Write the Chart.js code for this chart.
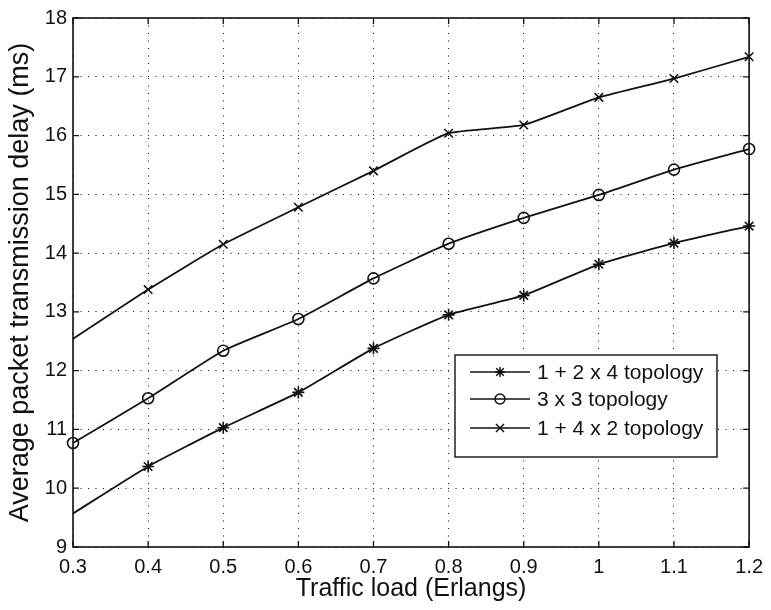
<!DOCTYPE html>
<html>
<head>
<meta charset="utf-8">
<script src="https://cdn.jsdelivr.net/npm/chart.js@4/dist/chart.umd.min.js"></script>
<style>
  html, body { margin: 0; padding: 0; background: #fff; }
  #wrap { width: 771px; height: 610px; position: relative; }
</style>
</head>
<body>
<div id="wrap"><canvas id="c" width="771" height="610"></canvas></div>
<script>
// Traffic load (Erlangs)
const loads = [0.3, 0.4, 0.5, 0.6, 0.7, 0.8, 0.9, 1.0, 1.1, 1.2];

// Average packet transmission delay (ms) per topology
const delayTopo124 = [9.57, 10.37, 11.03, 11.63, 12.38, 12.95, 13.28, 13.81, 14.17, 14.46];
const delayTopo33  = [10.77, 11.53, 12.34, 12.88, 13.57, 14.16, 14.60, 14.99, 15.42, 15.77];
const delayTopo142 = [12.54, 13.38, 14.15, 14.78, 15.40, 16.04, 16.18, 16.65, 16.97, 17.34];

const seriesLabels = ['1 + 2 x 4 topology', '3 x 3 topology', '1 + 4 x 2 topology'];
const yTicks = [9, 10, 11, 12, 13, 14, 15, 16, 17, 18];

const INK = '#111';
const FONT = 'Liberation Sans, Arial, Helvetica, sans-serif';

function toXY(values) {
  return values.map((v, i) => ({ x: loads[i], y: v }));
}

// Marker drawing shared by the legend
function drawMarker(ctx, style, x, y, r) {
  ctx.beginPath();
  if (style === 'circle') {
    ctx.arc(x, y, r, 0, Math.PI * 2);
  } else if (style === 'crossRot') {
    const d = r * 0.8;
    ctx.moveTo(x - d, y - d); ctx.lineTo(x + d, y + d);
    ctx.moveTo(x - d, y + d); ctx.lineTo(x + d, y - d);
  } else if (style === 'star') {
    const d = r * 0.75;
    ctx.moveTo(x - r, y); ctx.lineTo(x + r, y);
    ctx.moveTo(x, y - r); ctx.lineTo(x, y + r);
    ctx.moveTo(x - d, y - d); ctx.lineTo(x + d, y + d);
    ctx.moveTo(x - d, y + d); ctx.lineTo(x + d, y - d);
  }
  ctx.stroke();
}

// Frame, inward ticks and the boxed legend inside the plot
const framePlugin = {
  id: 'frame',
  afterDraw(chart) {
    const { ctx, chartArea: a, scales } = chart;
    ctx.save();
    ctx.strokeStyle = INK;
    ctx.lineWidth = 1.6;
    ctx.strokeRect(a.left, a.top, a.right - a.left, a.bottom - a.top);
    ctx.lineWidth = 1.3;
    const tl = 6;
    ctx.beginPath();
    scales.x.ticks.forEach(t => {
      const px = scales.x.getPixelForValue(t.value);
      ctx.moveTo(px, a.bottom); ctx.lineTo(px, a.bottom - tl);
      ctx.moveTo(px, a.top); ctx.lineTo(px, a.top + tl);
    });
    scales.y.ticks.forEach(t => {
      const py = scales.y.getPixelForValue(t.value);
      ctx.moveTo(a.left, py); ctx.lineTo(a.left + tl, py);
      ctx.moveTo(a.right, py); ctx.lineTo(a.right - tl, py);
    });
    ctx.stroke();

    // legend box
    const bx = 455, by = 355, bw = 262, bh = 102;
    ctx.fillStyle = '#fff';
    ctx.fillRect(bx, by, bw, bh);
    ctx.lineWidth = 1.4;
    ctx.strokeRect(bx, by, bw, bh);
    const rows = [372, 399, 428];
    ctx.font = '21px ' + FONT;
    ctx.textBaseline = 'middle';
    ctx.textAlign = 'left';
    chart.data.datasets.forEach((ds, i) => {
      const y = rows[i];
      ctx.strokeStyle = INK;
      ctx.lineWidth = 1.5;
      ctx.beginPath();
      ctx.moveTo(470, y); ctx.lineTo(530, y);
      ctx.stroke();
      drawMarker(ctx, ds.pointStyle, 500, y, 5);
      ctx.fillStyle = INK;
      ctx.fillText(ds.label, 537, y + 1);
    });
    ctx.restore();
  }
};

function makeDataset(label, values, style, radius, firstHidden) {
  const radii = values.map((v, i) => (firstHidden && i === 0) ? 0 : radius);
  return {
    label: label,
    data: toXY(values),
    borderColor: INK,
    backgroundColor: 'rgba(0,0,0,0)',
    borderWidth: 1.8,
    pointStyle: style,
    pointRadius: radii,
    pointHoverRadius: radii,
    pointBorderColor: INK,
    pointBorderWidth: 1.6,
    pointBackgroundColor: 'rgba(0,0,0,0)',
    tension: 0.15,
    fill: false,
    clip: false
  };
}

new Chart(document.getElementById('c'), {
  type: 'line',
  data: {
    datasets: [
      makeDataset(seriesLabels[0], delayTopo124, 'star', 6, true),
      makeDataset(seriesLabels[1], delayTopo33, 'circle', 5.5, false),
      makeDataset(seriesLabels[2], delayTopo142, 'crossRot', 6, true)
    ]
  },
  options: {
    responsive: false,
    animation: false,
    devicePixelRatio: 1,
    layout: { padding: { left: 0, right: 17, top: 13, bottom: 0 } },
    plugins: { legend: { display: false }, tooltip: { enabled: false } },
    scales: {
      x: {
        type: 'linear',
        min: 0.3,
        max: 1.2,
        afterFit(scale) { scale.height = 63; },
        afterBuildTicks(scale) { scale.ticks = loads.map(v => ({ value: v })); },
        ticks: {
          color: INK,
          padding: 8,
          maxRotation: 0,
          autoSkip: false,
          font: { family: FONT, size: 20 },
          callback: v => String(Number(v.toFixed(1)))
        },
        grid: {
          color: INK,
          lineWidth: 1,
          drawTicks: false
        },
        border: { display: false, dash: [1, 6.5] },
        title: {
          display: true,
          text: 'Traffic load (Erlangs)',
          color: INK,
          font: { family: FONT, size: 25 },
          padding: { top: 0, bottom: 6 }
        }
      },
      y: {
        min: 9,
        max: 18,
        afterFit(scale) { scale.width = 73; },
        afterBuildTicks(scale) { scale.ticks = yTicks.map(v => ({ value: v })); },
        ticks: {
          color: INK,
          padding: 6,
          font: { family: FONT, size: 20 },
          callback: v => String(v)
        },
        grid: {
          color: INK,
          lineWidth: 1,
          drawTicks: false
        },
        border: { display: false, dash: [1, 6.5] },
        title: {
          display: true,
          text: 'Average packet transmission delay (ms)',
          color: INK,
          font: { family: FONT, size: 27 },
          padding: { top: 4, bottom: 0 }
        }
      }
    }
  },
  plugins: [framePlugin]
});
</script>
</body>
</html>
